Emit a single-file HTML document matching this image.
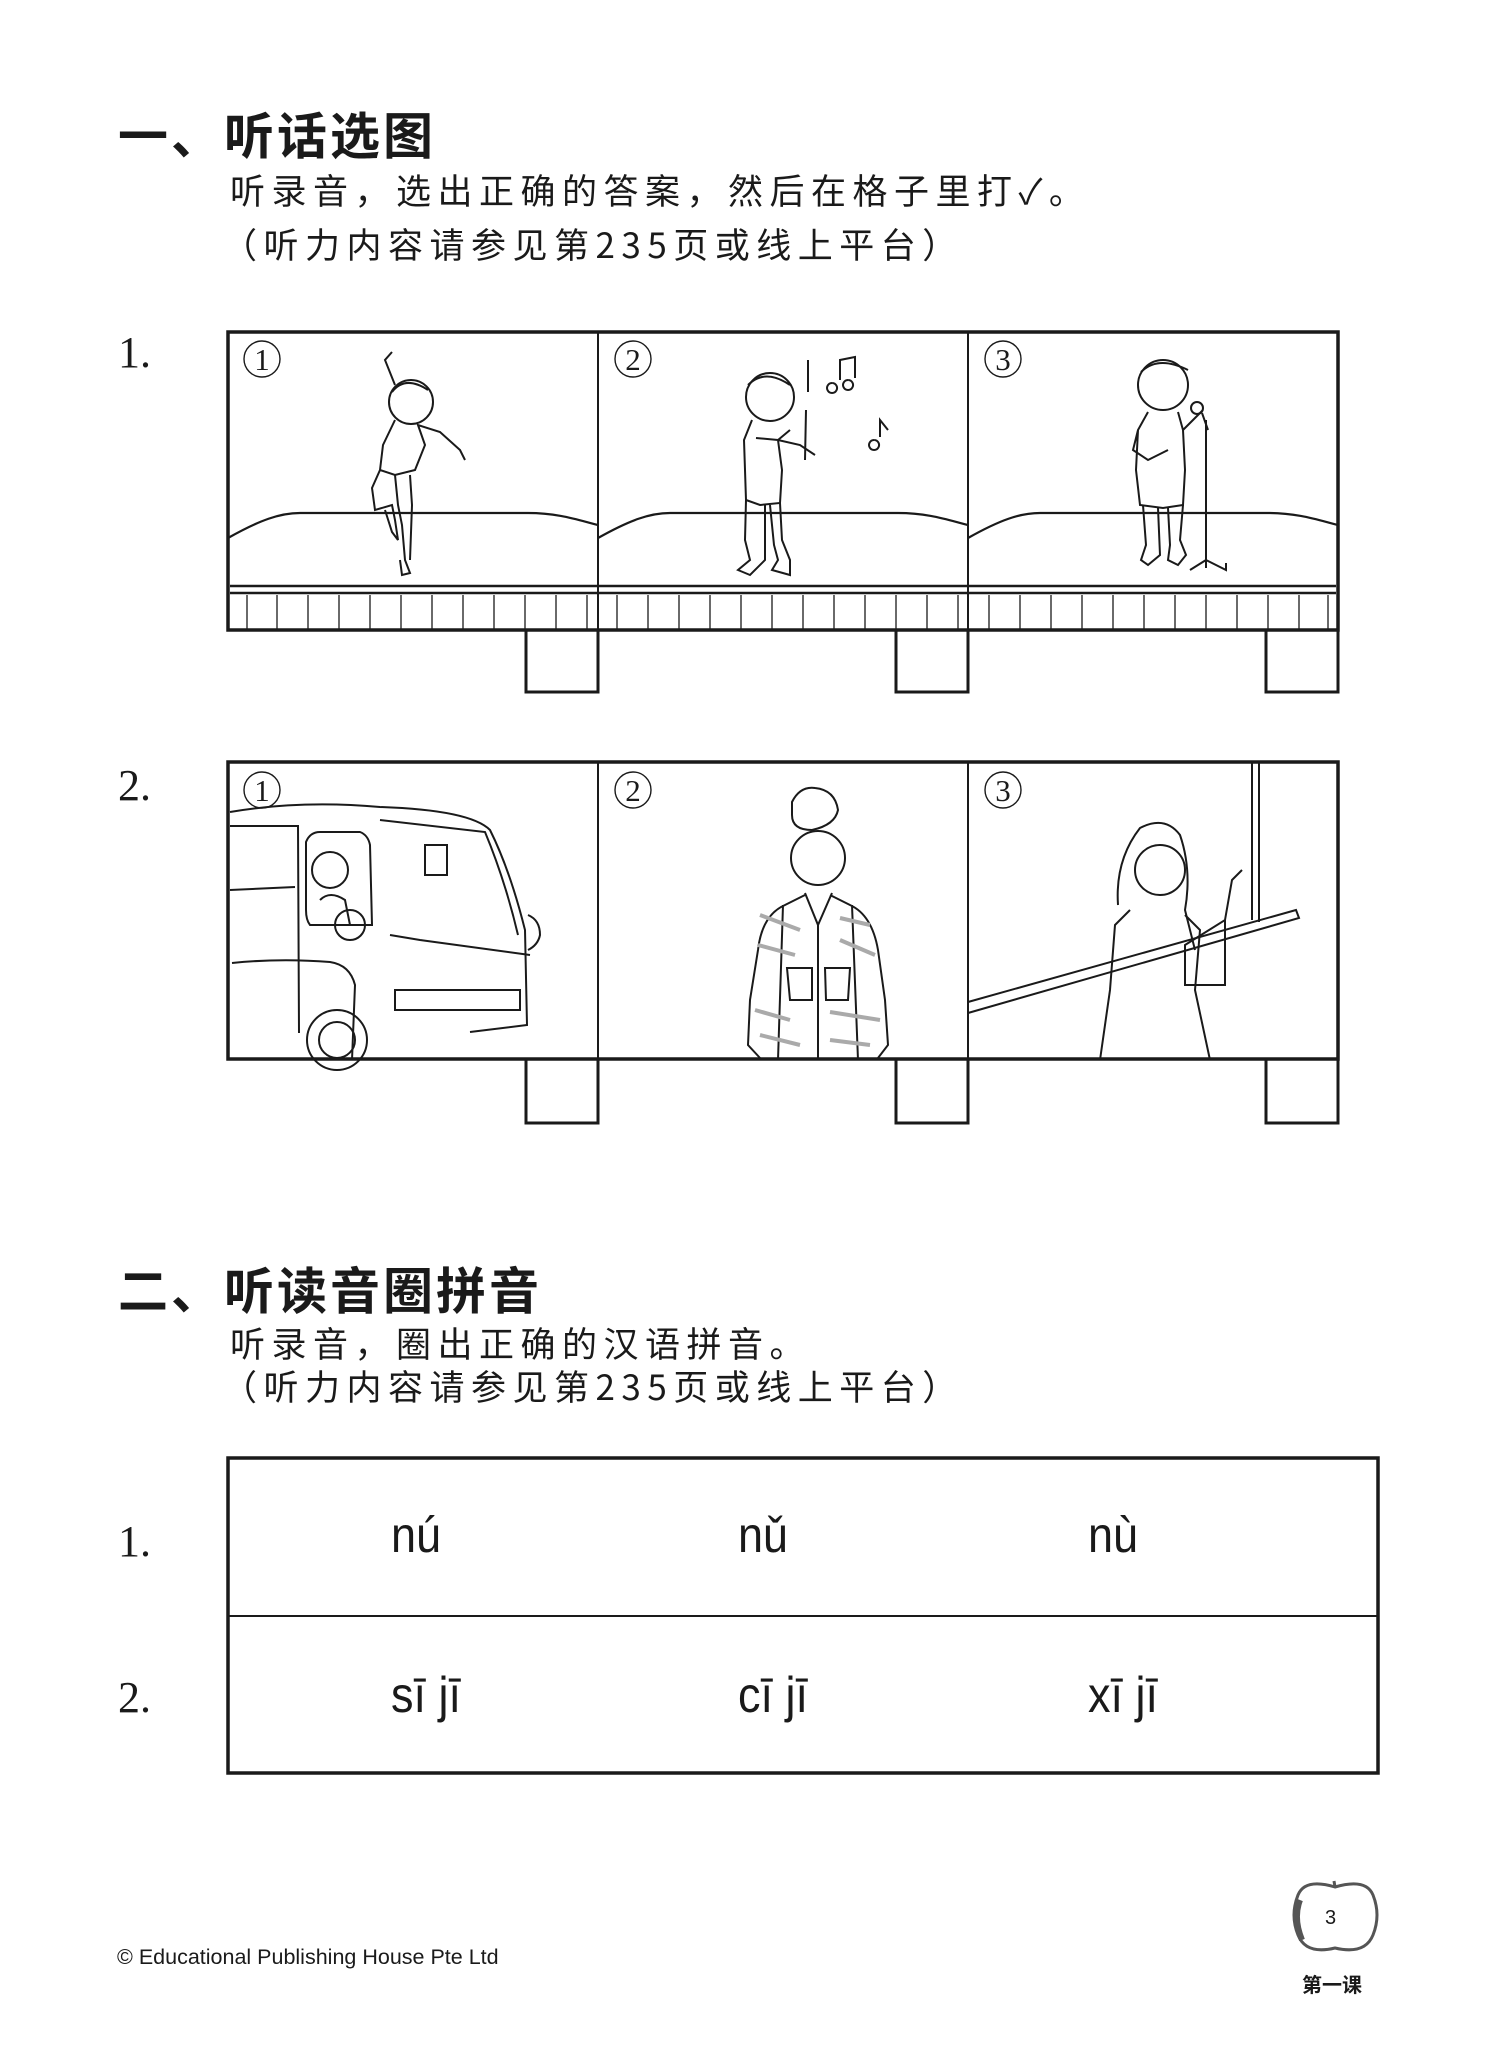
<!DOCTYPE html>
<html><head><meta charset="utf-8">
<style>
html,body{margin:0;padding:0;background:#fff;}
body{width:1495px;height:2046px;position:relative;overflow:hidden;font-family:"Liberation Sans","Noto Sans CJK SC",sans-serif;color:#1a1a1a;}
.t{position:absolute;white-space:nowrap;line-height:1;}
.h{font-size:50px;font-weight:bold;font-family:"Noto Sans CJK SC",sans-serif;letter-spacing:3px;}
.s{font-size:35px;letter-spacing:6.5px;font-family:"Noto Sans CJK SC",sans-serif;font-weight:400;}
.n{font-family:"Liberation Serif",serif;font-size:44px;}
.p{font-size:50px;font-family:"Liberation Sans",sans-serif;transform:scaleX(0.9);transform-origin:left top;}
</style></head><body>

<div class="t h" style="left:118px;top:108px;">一、听话选图</div>
<div class="t s" style="left:230px;top:172px;">听录音，选出正确的答案，然后在格子里打✓。</div>
<div class="t s" style="left:222px;top:226px;">（听力内容请参见第235页或线上平台）</div>

<div class="t n" style="left:118px;top:331px;">1.</div>
<div class="t n" style="left:118px;top:764px;">2.</div>

<svg style="position:absolute;left:0;top:0" width="1495" height="2046" viewBox="0 0 1495 2046">
<g fill="none" stroke="#1a1a1a">
 <rect x="228" y="332" width="1110" height="298" stroke-width="3.5"/>
 <line x1="598" y1="332" x2="598" y2="630" stroke-width="2"/>
 <line x1="968" y1="332" x2="968" y2="630" stroke-width="2"/>
 <line x1="230" y1="586" x2="1336" y2="586" stroke-width="2.5"/>
 <line x1="230" y1="593" x2="1336" y2="593" stroke-width="2.5"/>
 <path d="M228 538 C260 520 280 513 300 513 L528 513 C558 513 578 520 598 525" stroke-width="2.2"/>
 <path d="M598 538 C630 520 650 513 670 513 L898 513 C928 513 948 520 968 525" stroke-width="2.2"/>
 <path d="M968 538 C1000 520 1020 513 1040 513 L1268 513 C1298 513 1318 520 1338 525" stroke-width="2.2"/>
 <g stroke-width="1.3">
  <path d="M247 595V630M277 595V630M308 595V630M339 595V630M370 595V630M401 595V630M432 595V630M463 595V630M494 595V630M525 595V630M556 595V630M587 595V630
  M617 595V630M648 595V630M679 595V630M710 595V630M741 595V630M772 595V630M803 595V630M834 595V630M865 595V630M896 595V630M927 595V630M958 595V630
  M989 595V630M1020 595V630M1051 595V630M1082 595V630M1113 595V630M1144 595V630M1175 595V630M1206 595V630M1237 595V630M1268 595V630M1299 595V630M1328 595V630"/>
 </g>
 <path d="M526 630V692H598V630M896 630V692H968V630M1266 630V692H1338V630" stroke-width="3"/>

 <g stroke-width="2">
  <circle cx="411" cy="402" r="22"/>
  <path d="M392 392 Q405 375 428 390"/>
  <path d="M395 385 L385 360 L392 352 M395 420 L383 445 L380 470 L395 475 L415 470 L425 445 L418 425 L440 432 L460 450 L465 460"/>
  <path d="M380 470 L372 488 L375 510 L392 505 L395 520 L398 540 L392 532 L385 510 M395 475 L398 505 L402 525 L405 560 L410 573 L402 575 L400 560"/>
  <path d="M410 475 L412 505 L410 560"/>
  <circle cx="770" cy="397" r="24"/>
  <path d="M748 385 Q765 368 790 385"/>
  <path d="M752 420 L744 440 L745 470 L746 500 L760 505 L780 503 L782 470 L778 440 L790 430 M756 438 L778 440 L800 445 L815 455"/>
  <path d="M806 410 L805 460 M808 392 L808 360"/>
  <path d="M746 500 L745 540 L750 560 L738 570 L750 575 L765 560 L765 505 M770 505 L774 545 L778 560 L772 570 L790 575 L790 560 L782 540 L780 503"/>
  <path d="M840 380 L840 360 L855 357 L855 378 M832 383 a5 5 0 1 0 0.1 0 M848 380 a5 5 0 1 0 0.1 0 M880 437 L880 420 L888 430 M874 440 a5 5 0 1 0 0.1 0"/>
  <circle cx="1163" cy="385" r="25"/>
  <path d="M1141 372 Q1158 355 1188 370"/>
  <path d="M1148 412 L1138 430 L1136 470 L1140 505 L1163 508 L1183 505 L1185 470 L1183 430 L1178 412 M1138 430 L1133 450 L1148 460 L1168 450 M1183 430 L1193 420 L1203 410"/>
  <path d="M1143 505 L1146 545 L1141 560 L1148 565 L1160 555 L1158 508 M1168 508 L1170 545 L1168 560 L1178 565 L1186 555 L1180 540 L1183 505"/>
  <circle cx="1197" cy="408" r="6"/>
  <path d="M1202 413 L1208 430 M1206 420 L1206 568 M1206 560 L1190 570 M1206 560 L1226 570 L1226 563"/>
 </g>

 <rect x="228" y="762" width="1110" height="297" stroke-width="3.5"/>
 <line x1="598" y1="762" x2="598" y2="1059" stroke-width="2"/>
 <line x1="968" y1="762" x2="968" y2="1059" stroke-width="2"/>
 <path d="M526 1059V1123H598V1059M896 1059V1123H968V1059M1266 1059V1123H1338V1059" stroke-width="3"/>
 <g stroke-width="2">
  <path d="M230 812 Q300 800 380 807 Q470 810 490 830 Q510 870 525 930 L527 1025 L470 1032 M230 826 L298 826 L299 1033 M380 820 L485 832 Q505 880 518 935"/>
  <path d="M306 842 Q310 832 320 832 L360 832 Q368 835 370 845 L372 925 L310 925 Q306 920 306 910 Z"/>
  <circle cx="330" cy="870" r="18"/><path d="M320 900 Q330 890 345 900 L350 925"/>
  <rect x="425" y="845" width="22" height="30"/>
  <circle cx="350" cy="925" r="15"/>
  <path d="M230 890 L295 887 M232 963 Q280 958 330 962 Q350 965 355 985 L352 1060 M390 935 L420 940 L530 955"/>
  <circle cx="337" cy="1040" r="30"/><circle cx="337" cy="1040" r="18"/>
  <path d="M395 990 L520 990 L520 1010 L395 1010 Z M528 915 Q540 920 540 935 Q538 945 528 950"/>
  <path d="M792 802 Q800 786 815 788 Q835 790 838 810 Q835 825 812 830 Q792 830 792 815 Z"/>
  <circle cx="818" cy="858" r="27"/>
  <path d="M805 895 L785 905 Q762 915 758 950 L750 1000 L748 1045 L760 1058 M830 895 L850 905 Q872 915 878 950 L885 1000 L888 1045 L878 1058 M783 905 L778 1060 M852 905 L858 1060 M805 893 L818 925 L832 893 M818 925 L818 1060"/>
  <path d="M787 968 L812 968 L812 1000 L790 1000 Z M825 968 L850 968 L848 1000 L826 1000 Z"/>
  <path d="M1252 762 L1252 920 M1259 762 L1259 922 M968 1002 L1296 910 L1299 918 L968 1013"/>
  <path d="M1118 905 Q1115 860 1140 828 Q1165 815 1180 835 Q1192 870 1185 910 L1195 950"/>
  <circle cx="1160" cy="870" r="25"/>
  <path d="M1130 910 L1115 925 L1110 990 L1100 1060 M1185 915 L1200 930 L1195 990 L1210 1060 M1185 945 L1225 920 L1225 985 L1185 985 Z M1225 920 L1232 880 L1242 870"/>
 </g>
 <g stroke="#aaa" stroke-width="4">
  <path d="M760 915 L800 930 M840 918 L870 925 M758 945 L795 955 M840 940 L875 955 M755 1010 L790 1020 M830 1012 L880 1020 M760 1035 L800 1045 M830 1040 L870 1045"/>
 </g>

 <rect x="228" y="1458" width="1150" height="315" stroke-width="3.5"/>
 <line x1="228" y1="1616" x2="1378" y2="1616" stroke-width="2"/>

 <path d="M1335 1887 Q1305 1878 1298 1895 Q1290 1915 1298 1935 Q1306 1955 1335 1948 Q1365 1955 1373 1935 Q1381 1915 1373 1895 Q1366 1878 1335 1887 Z" stroke="#555" stroke-width="3"/>
 <path d="M1300 1900 Q1293 1918 1302 1940" stroke="#555" stroke-width="6"/>
 <path d="M1335 1887 L1334 1881" stroke="#555" stroke-width="3"/>

 <g stroke-width="1.4">
  <circle cx="262" cy="359" r="18"/><circle cx="633" cy="359" r="18"/><circle cx="1003" cy="359" r="18"/>
  <circle cx="262" cy="790" r="18"/><circle cx="633" cy="790" r="18"/><circle cx="1003" cy="790" r="18"/>
 </g>
</g>
<g font-family="Liberation Serif, serif" font-size="31" fill="#1a1a1a" text-anchor="middle">
 <text x="262" y="370">1</text><text x="633" y="370">2</text><text x="1003" y="370">3</text>
 <text x="262" y="801">1</text><text x="633" y="801">2</text><text x="1003" y="801">3</text>
</g>
</svg>

<div class="t h" style="left:118px;top:1263px;">二、听读音圈拼音</div>
<div class="t s" style="left:230px;top:1325px;">听录音，圈出正确的汉语拼音。</div>
<div class="t s" style="left:222px;top:1368px;">（听力内容请参见第235页或线上平台）</div>

<div class="t n" style="left:118px;top:1520px;">1.</div>
<div class="t n" style="left:118px;top:1676px;">2.</div>

<div class="t p" style="left:391px;top:1510px;">nú</div>
<div class="t p" style="left:738px;top:1510px;">nǔ</div>
<div class="t p" style="left:1088px;top:1510px;">nù</div>
<div class="t p" style="left:391px;top:1670px;">sī jī</div>
<div class="t p" style="left:738px;top:1670px;">cī jī</div>
<div class="t p" style="left:1088px;top:1670px;">xī jī</div>

<div class="t" style="left:1325px;top:1908px;font-size:20px;">3</div>
<div class="t" style="left:1302px;top:1974px;font-size:20px;font-weight:bold;font-family:'Noto Sans CJK SC',sans-serif;">第一课</div>
<div class="t" style="left:117px;top:1947px;font-size:21.5px;">© Educational Publishing House Pte Ltd</div>
</body></html>
